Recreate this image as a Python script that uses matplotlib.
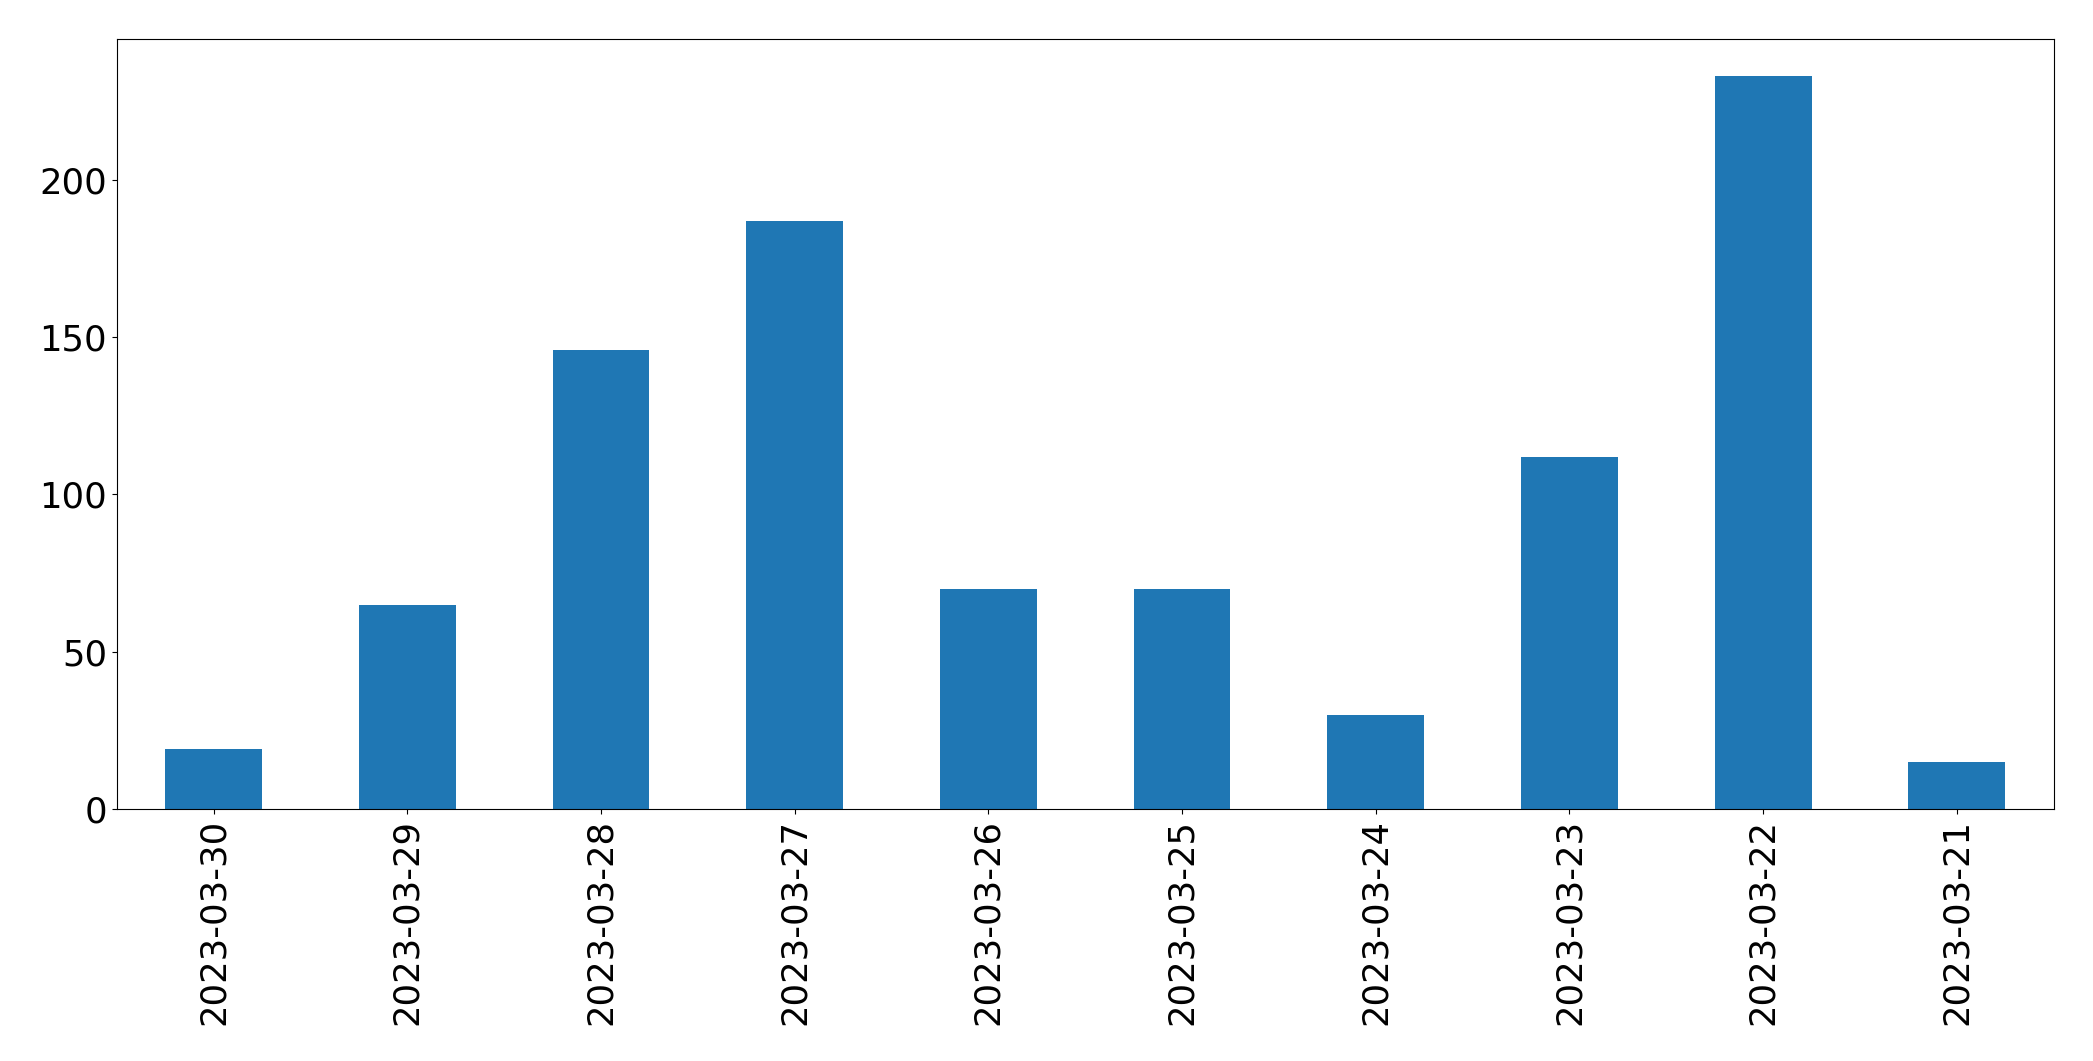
import matplotlib
matplotlib.use("Agg")
import matplotlib.pyplot as plt

dates = ["2023-03-30", "2023-03-29", "2023-03-28", "2023-03-27", "2023-03-26",
         "2023-03-25", "2023-03-24", "2023-03-23", "2023-03-22", "2023-03-21"]
counts = [19, 65, 146, 187, 70, 70, 30, 112, 233, 15]

fig = plt.figure(figsize=(20.93, 10.61), dpi=100)
ax = fig.add_axes([116.7/2093, 1 - 809/1061, (2053.7-116.7)/2093, (809-39.3)/1061])
x = list(range(len(dates)))
ax.bar(x, counts, width=0.5, color="#1f77b4")
ax.set_xlim(-0.5, len(dates) - 0.5)
ax.set_ylim(0, max(counts) * 1.05)
ax.set_xticks(x)
ax.set_xticklabels(dates, rotation=90)
ax.set_yticks([0, 50, 100, 150, 200])
ax.tick_params(axis="both", labelsize=25.5)
fig.savefig("out.png", dpi=100)
